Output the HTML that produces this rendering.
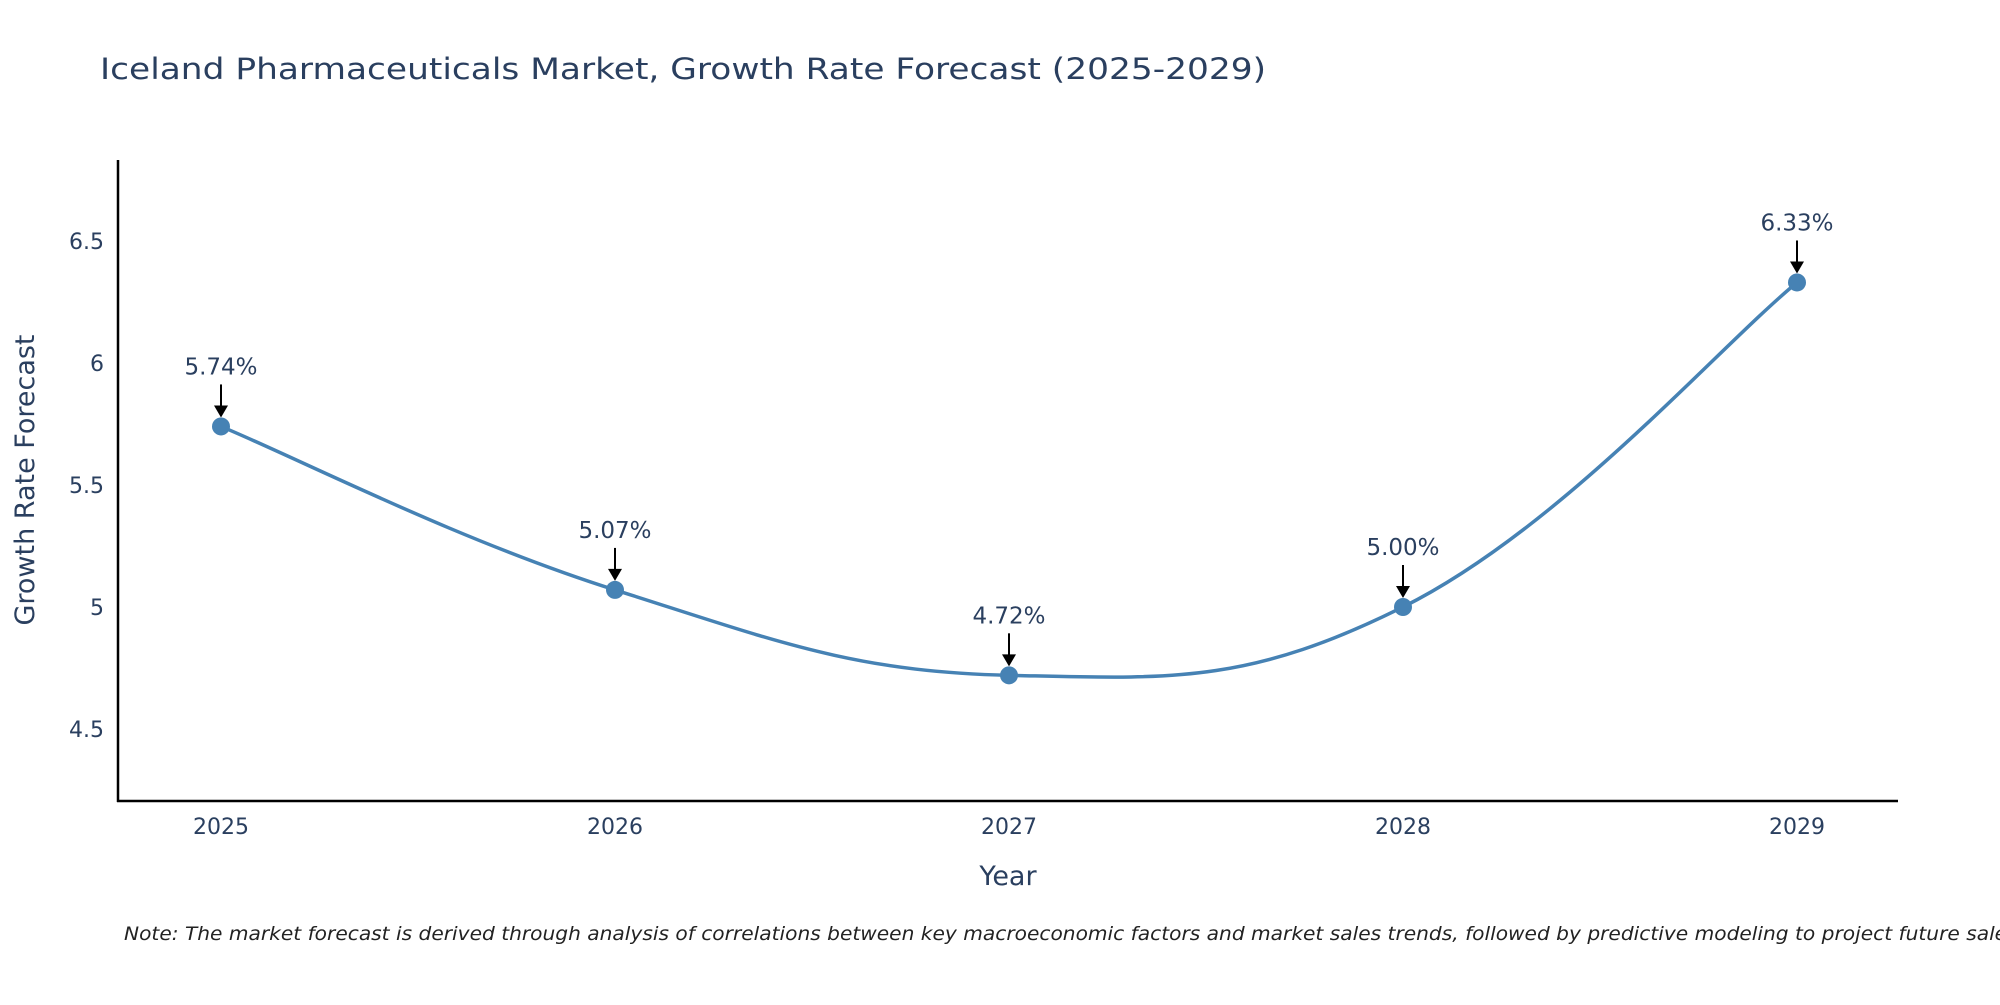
<!DOCTYPE html>
<html><head><meta charset="utf-8"><style>
body{margin:0;background:#fff;}
svg text{font-family:"DejaVu Sans","Liberation Sans",sans-serif;fill:#2a3f5f;}
</style></head><body>
<svg id="chart" width="2000" height="1000" xmlns="http://www.w3.org/2000/svg">
<text x="100" y="79" font-size="29" textLength="1166" lengthAdjust="spacingAndGlyphs">Iceland Pharmaceuticals Market, Growth Rate Forecast (2025-2029)</text>
<g id="yticks"></g>
<g id="xticks"></g>
<path id="line" fill="none" stroke="#4682b4" stroke-width="3.5"></path>
<g id="points"></g>
<g id="annots"></g>
<line x1="118" y1="160" x2="118" y2="802" stroke="#000" stroke-width="2.5"/>
<line x1="117" y1="801" x2="1898" y2="801" stroke="#000" stroke-width="2.5"/>
<text x="1008" y="885" font-size="27" text-anchor="middle">Year</text>
<text transform="translate(34,480) rotate(-90)" font-size="27" text-anchor="middle">Growth Rate Forecast</text>
<text x="124" y="940" font-size="19" font-style="italic" textLength="1900" lengthAdjust="spacingAndGlyphs" style="fill:#222">Note: The market forecast is derived through analysis of correlations between key macroeconomic factors and market sales trends, followed by predictive modeling to project future sales.</text>
</svg>
<script>
const years=[2025,2026,2027,2028,2029];
const values=[5.74,5.07,4.72,5.00,6.33];
const labels=["5.74%","5.07%","4.72%","5.00%","6.33%"];
const yTicks=[4.5,5,5.5,6,6.5];
const yTickLabels=["4.5","5","5.5","6","6.5"];
const NS="http://www.w3.org/2000/svg";
const xs=y=>221+(y-2025)*394;
const ys=v=>607-(v-5)*244;
function mk(tag,attrs,parent,txt){const e=document.createElementNS(NS,tag);for(const k in attrs)e.setAttribute(k,attrs[k]);if(txt!=null)e.textContent=txt;parent.appendChild(e);return e;}
const yt=document.getElementById('yticks');
yTicks.forEach((t,i)=>{const e=mk('text',{x:104,y:ys(t)+8,'font-size':22,'text-anchor':'end'},yt,yTickLabels[i]);

});
const xt=document.getElementById('xticks');
years.forEach(y=>{const e=mk('text',{x:xs(y),y:834,'font-size':22,'text-anchor':'middle'},xt,String(y));

});
const P=years.map((y,i)=>[xs(y),ys(values[i])]);
let d=`M${P[0][0]},${P[0][1]}`;
const s=0.2;
for(let i=0;i<P.length-1;i++){
const p0=P[i-1]||P[i],p1=P[i],p2=P[i+1],p3=P[i+2]||P[i+1];
const c1=[p1[0]+(p2[0]-p0[0])*s,p1[1]+(p2[1]-p0[1])*s];
const c2=[p2[0]-(p3[0]-p1[0])*s,p2[1]-(p3[1]-p1[1])*s];
d+=` C${c1[0]},${c1[1]} ${c2[0]},${c2[1]} ${p2[0]},${p2[1]}`;}
document.getElementById('line').setAttribute('d',d);
const pts=document.getElementById('points'),an=document.getElementById('annots');
P.forEach((p,i)=>{
const c=mk('circle',{cx:p[0],cy:p[1],r:9,fill:'#4682b4'},pts);


const l=mk('line',{x1:p[0],y1:p[1]-42,x2:p[0],y2:p[1]-20,stroke:'#000','stroke-width':2},an);


const h=mk('polygon',{points:`${p[0]-7},${p[1]-21} ${p[0]+7},${p[1]-21} ${p[0]},${p[1]-9}`,fill:'#000'},an);


const tx=mk('text',{x:p[0],y:p[1]-52,'font-size':23,'text-anchor':'middle'},an,labels[i]);


});
</script>
</body></html>
